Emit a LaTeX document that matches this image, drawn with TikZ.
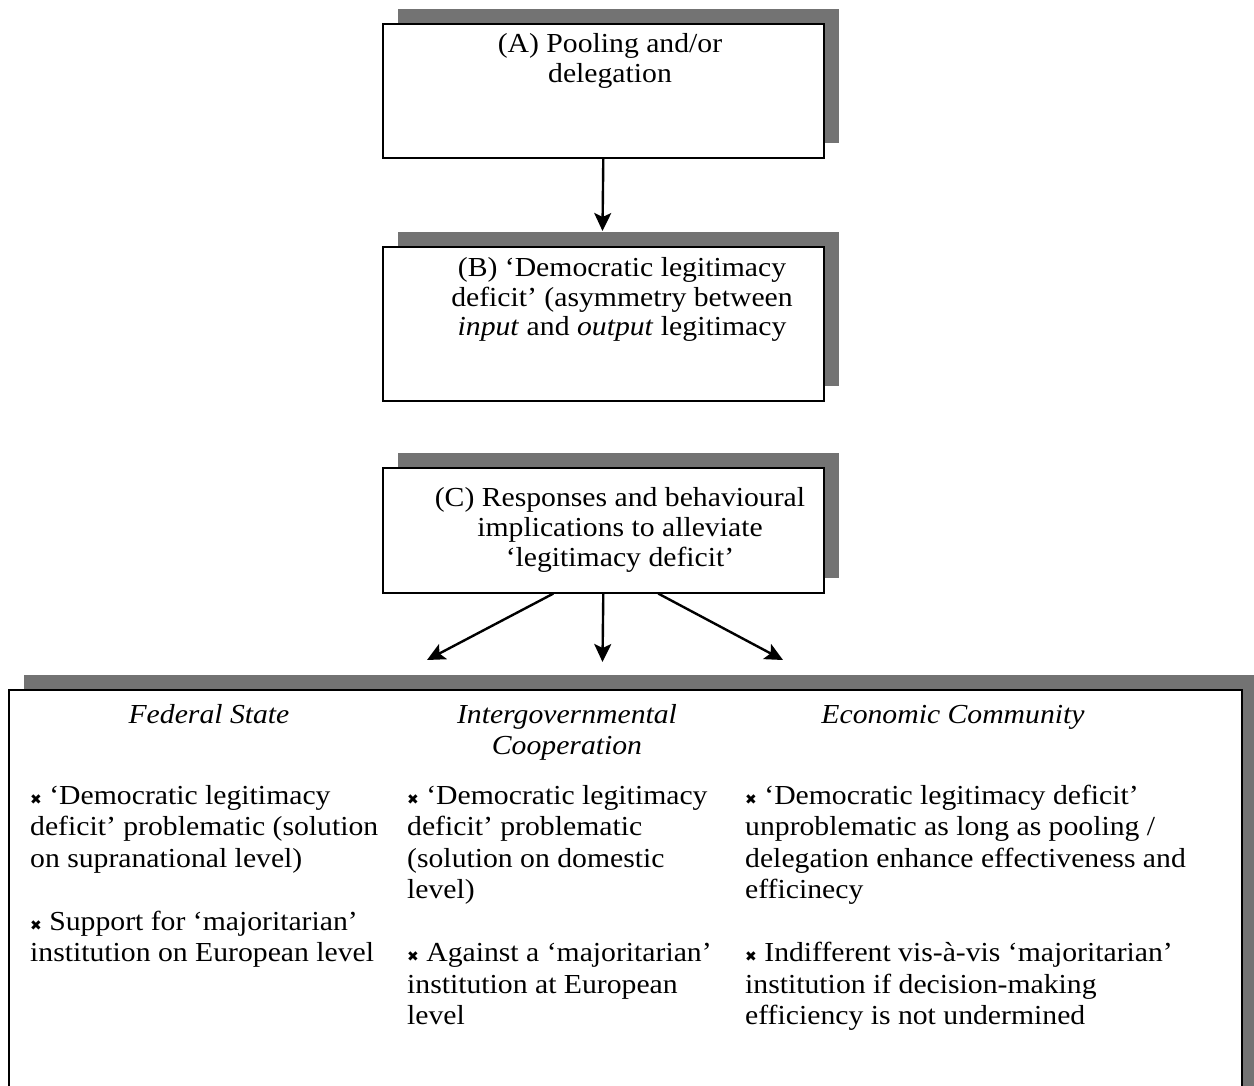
\documentclass[tikz,border=0pt]{standalone}
\usepackage{fontspec}
\setmainfont[FakeStretch=1.08]{Liberation Serif}
\newfontfamily\symf{DejaVu Sans}
\usetikzlibrary{arrows.meta,shadows}
\newcommand\xb{{\symf\fontsize{14}{14}\selectfont ✖}\ }
\begin{document}
\begin{tikzpicture}[x=1pt,y=-1pt,
  box/.style={draw=black,line width=1.6pt,fill=white,anchor=north west,inner sep=0pt,
    drop shadow={shadow xshift=15pt,shadow yshift=15pt,fill=black!55,opacity=1}},
  txt/.style={font=\fontsize{27.5}{30}\selectfont,align=center,inner sep=0pt,anchor=base},
  htxt/.style={font=\fontsize{27.5}{31.5}\selectfont\itshape,align=center,inner sep=0pt,anchor=base},
  ltxt/.style={font=\fontsize{27.5}{31.5}\selectfont,align=left,inner sep=0pt,anchor=base west},
  arr/.style={line width=2.4pt,-{Stealth[length=18pt,width=17pt,inset=4pt]}}]
\useasboundingbox (0,0) rectangle (1254,1086);
% boxes
\node[box,minimum width=441pt,minimum height=134pt] (A) at (382,23) {};
\node[box,minimum width=441pt,minimum height=154pt] (B) at (382,246) {};
\node[box,minimum width=441pt,minimum height=125pt] (C) at (382,467) {};
\node[box,minimum width=1233pt,minimum height=500pt] (D) at (8,689) {};
% box texts (anchor = baseline of last line)
\node[txt] (At) at (610,83) {(A) Pooling and/or\\delegation};
\node[txt] (Bt) at (622,336) {(B) ‘Democratic legitimacy\\deficit’ (asymmetry between\\\textit{input} and \textit{output} legitimacy};
\node[txt] (Ct) at (620,566) {(C) Responses and behavioural\\implications to alleviate\\‘legitimacy deficit’};
% connectors
\coordinate (Bin) at (602.5,231);
\draw[arr] (A.south) -- (Bin);
\coordinate (dl) at (427,660);
\coordinate (dm) at (602.5,662);
\coordinate (dr) at (783,660);
\draw[arr] ([xshift=-50pt]C.south) -- (dl);
\draw[arr] (C.south) -- (dm);
\draw[arr] ([xshift=55pt]C.south) -- (dr);
% headers
\node[htxt] (hF) at (209,723) {Federal State};
\node[htxt] (hI) at (567,754.5) {Intergovernmental\\Cooperation};
\node[htxt] (hE) at (953,723) {Economic Community};
% column texts
\node[ltxt] (f1) at (30,867) {\xb‘Democratic legitimacy\\deficit’ problematic (solution\\on supranational level)};
\node[ltxt] (f2) at (30,961.5) {\xb Support for ‘majoritarian’\\institution on European level};
\node[ltxt] (i1) at (407,898.5) {\xb‘Democratic legitimacy\\deficit’ problematic\\(solution on domestic\\level)};
\node[ltxt] (i2) at (407,1024.5) {\xb Against a ‘majoritarian’\\institution at European\\level};
\node[ltxt] (e1) at (745,898.5) {\xb‘Democratic legitimacy deficit’\\unproblematic as long as pooling /\\delegation enhance effectiveness and\\efficinecy};
\node[ltxt] (e2) at (745,1024.5) {\xb Indifferent vis-à-vis ‘majoritarian’\\institution if decision-making\\efficiency is not undermined};
\end{tikzpicture}
\end{document}
